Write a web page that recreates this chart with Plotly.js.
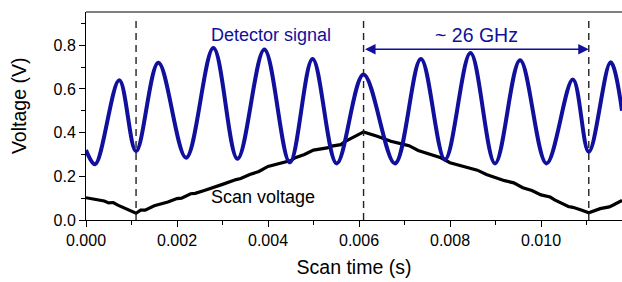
<!DOCTYPE html>
<html><head><meta charset="utf-8">
<script src="https://cdn.plot.ly/plotly-3.0.1.min.js"></script>
<style>html,body{margin:0;padding:0;background:#fff;overflow:hidden}#chart{width:622px;height:282px}</style>
</head><body><div id="chart"></div>
<script>
// Detector signal (V) vs scan time (s): extrema
var detTime = [0, 0.0002, 0.00073, 0.0011, 0.00159, 0.0022, 0.0028, 0.00333, 0.00392, 0.00448, 0.00498, 0.00551, 0.0061, 0.00679, 0.00736, 0.00789, 0.00845, 0.00899, 0.00954, 0.01012, 0.0107, 0.01105, 0.01153, 0.01178];
var detVolt = [0.32, 0.255, 0.64, 0.315, 0.72, 0.285, 0.787, 0.28, 0.78, 0.264, 0.737, 0.259, 0.666, 0.259, 0.737, 0.277, 0.764, 0.259, 0.731, 0.259, 0.643, 0.312, 0.722, 0.5];

// Scan voltage (V) vs scan time (s)
var scanTime = [0, 0.0002, 0.0003, 0.0004, 0.0005, 0.0006, 0.0007, 0.0009, 0.0011, 0.0012, 0.0013, 0.0015, 0.0017, 0.0018, 0.002, 0.0021, 0.0023, 0.0024, 0.0026, 0.0028, 0.003, 0.0033, 0.0034, 0.0036, 0.0038, 0.004, 0.0043, 0.0045, 0.0046, 0.0048, 0.005, 0.0053, 0.0054, 0.0056, 0.0057, 0.0059, 0.0061, 0.0064, 0.0066, 0.0067, 0.007, 0.0071, 0.0073, 0.0076, 0.0078, 0.008, 0.0084, 0.0086, 0.0088, 0.0092, 0.0094, 0.0096, 0.0098, 0.01, 0.0102, 0.0103, 0.0106, 0.0107, 0.0109, 0.01105, 0.0113, 0.0115, 0.0116, 0.01178];
var scanVolt = [0.102, 0.095, 0.09, 0.087, 0.078, 0.08, 0.068, 0.048, 0.031, 0.045, 0.045, 0.065, 0.075, 0.082, 0.098, 0.1, 0.12, 0.122, 0.135, 0.148, 0.163, 0.185, 0.19, 0.208, 0.222, 0.245, 0.26, 0.272, 0.285, 0.3, 0.32, 0.33, 0.338, 0.345, 0.36, 0.38, 0.403, 0.383, 0.37, 0.36, 0.345, 0.34, 0.318, 0.3, 0.285, 0.262, 0.24, 0.228, 0.208, 0.18, 0.17, 0.148, 0.135, 0.115, 0.105, 0.092, 0.062, 0.058, 0.045, 0.033, 0.052, 0.06, 0.07, 0.09];

// Marker positions (s) and labels
var markerTimes = [0.0011, 0.0061, 0.01105];
var spanStart = 0.0061, spanEnd = 0.01105, spanLevel = 0.782;
var xTickVals = [0, 0.002, 0.004, 0.006, 0.008, 0.010];
var xTickText = ['0.000', '0.002', '0.004', '0.006', '0.008', '0.010'];
var yTickVals = [0, 0.2, 0.4, 0.6, 0.8];
var yTickText = ['0.0', '0.2', '0.4', '0.6', '0.8'];

var BLUE = '#10109c';
var FONT = 'Arial, "Liberation Sans", sans-serif';

var traces = [
  {x: scanTime, y: scanVolt, mode: 'lines', line: {color: '#000', width: 3.2}, hoverinfo: 'skip'},
  {x: detTime, y: detVolt, mode: 'lines', line: {color: BLUE, width: 4, shape: 'spline', smoothing: 1}, hoverinfo: 'skip'}
];

var shapes = markerTimes.map(function (t) {
  return {type: 'line', xref: 'x', yref: 'y', x0: t, x1: t, y0: 0, y1: 0.92,
          line: {color: '#222', width: 1.4, dash: '7px,5px'}};
});
shapes.push({type: 'line', xref: 'paper', yref: 'paper', x0: 0, x1: 1, y0: 1, y1: 1, line: {color: '#000', width: 1}});

var layout = {
  width: 622, height: 282,
  margin: {l: 86, r: 0, t: 12, b: 62},
  paper_bgcolor: '#fff', plot_bgcolor: '#fff',
  showlegend: false,
  font: {family: FONT, color: '#000'},
  xaxis: {
    range: [0, 0.01178], tickvals: xTickVals, ticktext: xTickText,
    ticks: 'outside', ticklen: 6, tickwidth: 1, tickcolor: '#000',
    minor: {dtick: 0.001, tick0: 0, ticks: 'outside', ticklen: 4, tickcolor: '#000'},
    showline: true, linecolor: '#000', linewidth: 1, showgrid: false, zeroline: false,
    tickfont: {size: 16, family: FONT},
    title: {text: 'Scan time (s)', font: {size: 19.5, family: FONT}, standoff: 12}
  },
  yaxis: {
    range: [0, 0.952], tickvals: yTickVals, ticktext: yTickText,
    ticks: 'outside', ticklen: 6, tickwidth: 1, tickcolor: '#000',
    minor: {dtick: 0.1, tick0: 0, ticks: 'outside', ticklen: 4, tickcolor: '#000'},
    showline: true, linecolor: '#000', linewidth: 1, showgrid: false, zeroline: false,
    tickfont: {size: 16, family: FONT}
  },
  shapes: shapes,
  annotations: [
    {xref: 'paper', yref: 'paper', x: -0.126, y: 0.55, text: 'Voltage (V)', textangle: -90, showarrow: false,
     font: {size: 19.5, family: FONT}, xanchor: 'center', yanchor: 'middle'},
    {x: 0.00407, y: 0.845, text: 'Detector signal', showarrow: false, font: {size: 18, color: BLUE, family: FONT}},
    {x: 0.00858, y: 0.845, text: '~ 26 GHz', showarrow: false, font: {size: 19.5, color: BLUE, family: FONT}},
    {x: 0.00389, y: 0.105, text: 'Scan voltage', showarrow: false, font: {size: 18, color: '#000', family: FONT}},
    {x: spanEnd, y: spanLevel, ax: spanStart, ay: spanLevel, axref: 'x', ayref: 'y', text: '',
     showarrow: true, arrowside: 'end+start', arrowhead: 2, arrowsize: 1.4, arrowwidth: 1.5, arrowcolor: BLUE,
     standoff: 0, startstandoff: 0}
  ]
};

Plotly.newPlot('chart', traces, layout, {displayModeBar: false, staticPlot: true});
</script>
</body></html>
